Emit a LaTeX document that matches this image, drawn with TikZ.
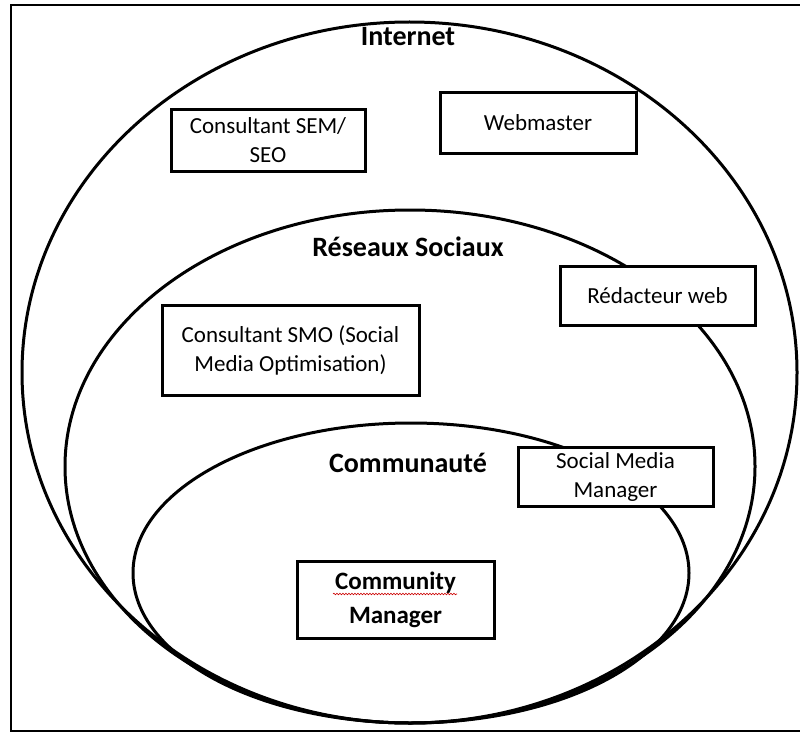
\documentclass[tikz,border=0pt]{standalone}
\usepackage{fontspec}
\setmainfont{Carlito}
\usetikzlibrary{decorations.pathmorphing}
\tikzset{
  ring/.style={draw=black, line width=3pt},
  rolebox/.style={draw=black, line width=3pt, fill=white, inner sep=0pt, align=center,
    font=\fontsize{23}{29}\selectfont},
  label/.style={inner sep=0pt, font=\fontsize{28}{34}\selectfont\bfseries},
}
\begin{document}
\begin{tikzpicture}[x=1pt,y=-1pt]
\clip (0,0) rectangle (800,733);
\fill[white] (0,0) rectangle (800,733);
\draw[line width=2pt] (11,5) rectangle (815,731);
% ellipses
\draw[ring] (409.5,372.5) ellipse [x radius=387.5, y radius=350.5];
\draw[ring] (410,466.5) ellipse [x radius=345, y radius=256.5];
\draw[ring] (411,573) ellipse [x radius=278, y radius=150];
% labels
\node[label] (internet) at (408,37) {Internet};
\node[label] (reseaux) at (408,247) {Réseaux Sociaux};
\node[label] (commu) at (408,463) {Communauté};
% boxes
\node[rolebox, minimum width=194, minimum height=61] (sem) at (268,140.5) {Consultant SEM/\\SEO};
\node[rolebox, minimum width=196, minimum height=60] (web) at (538,123) {Webmaster};
\node[rolebox, minimum width=195, minimum height=59] (red) at (657.5,295.5) {Rédacteur web};
\node[rolebox, minimum width=257, minimum height=90] (smo) at (290.5,350) {Consultant SMO (Social\\Media Optimisation)};
\node[rolebox, minimum width=195, minimum height=59] (smm) at (615.5,476.5) {Social Media\\Manager};
\node[rolebox, minimum width=197, minimum height=77, font=\fontsize{25}{34}\selectfont\bfseries] (cm) at (395.5,599.5) {Community\\Manager};
\coordinate (sqa) at (333,594);
\coordinate (sqb) at (457,594);
\draw[red!80!black, line width=0.6pt, decorate, decoration={snake, amplitude=0.8pt, segment length=3pt}] (sqa) -- (sqb);
\end{tikzpicture}
\end{document}
